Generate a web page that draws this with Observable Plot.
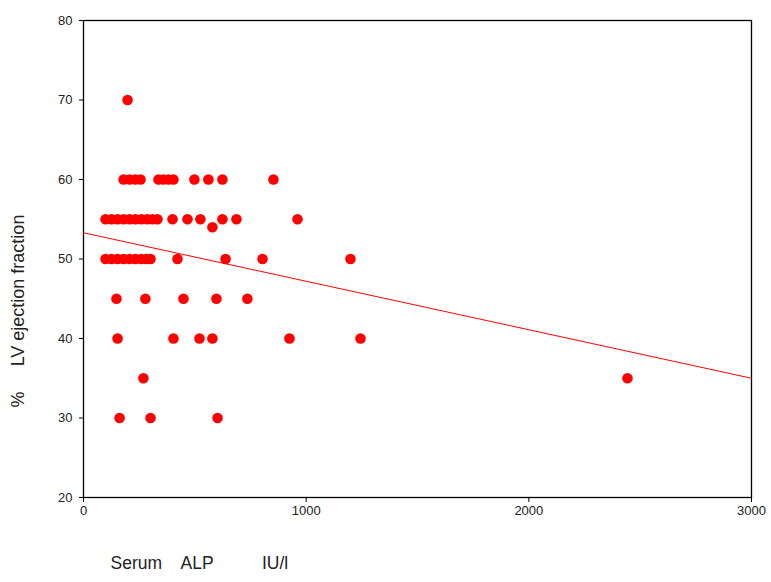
<!DOCTYPE html>
<html>
<head>
<meta charset="utf-8">
<script src="https://cdn.jsdelivr.net/npm/d3@7"></script>
<script src="https://cdn.jsdelivr.net/npm/@observablehq/plot@0.6"></script>
<style>
  html, body { margin: 0; padding: 0; background: #fff; }
  #chart svg { display: block; }
</style>
</head>
<body>
<div id="chart"></div>
<script>
// Serum ALP (IU/l) values, grouped by ejection-fraction level
const alp70 = [198];
const alp60 = [180, 207, 233, 256, 337, 359, 382, 404, 498, 561, 624, 853];
const alp55 = [99, 126, 153, 180, 207, 233, 260, 287, 310, 332, 400, 467, 525, 624, 687, 961];
const alp54 = [579];
const alp50 = [99, 126, 153, 180, 207, 233, 260, 283, 301, 422, 638, 804, 1199];
const alp45 = [148, 278, 449, 597, 736];
const alp40 = [153, 404, 521, 579, 925, 1244];
const alp35 = [269, 2443];
const alp30 = [162, 301, 602];

const efLevels = [70, 60, 55, 54, 50, 45, 40, 35, 30];
const alpGroups = [alp70, alp60, alp55, alp54, alp50, alp45, alp40, alp35, alp30];

// Fitted regression line (as drawn in the reference)
const fitIntercept = 53.3;
const fitSlope = -0.00610;
const fitRange = [0, 3000];

const xTicks = [0, 1000, 2000, 3000];
const yTicks = [20, 30, 40, 50, 60, 70, 80];

const points = [];
alpGroups.forEach((g, i) => g.forEach(a => points.push({alp: a, ef: efLevels[i]})));
const fitLine = fitRange.map(x => ({alp: x, ef: fitIntercept + fitSlope * x}));

const chart = Plot.plot({
  width: 771,
  height: 582,
  marginLeft: 83,
  marginRight: 20,
  marginTop: 20,
  marginBottom: 85,
  style: {fontFamily: "'Liberation Sans', Arial, sans-serif", fontSize: "13px", color: "#222", background: "#fff"},
  x: {domain: [0, 3000], ticks: xTicks},
  y: {domain: [20, 80], ticks: yTicks},
  marks: [
    Plot.frame({stroke: "#000", strokeWidth: 1.3}),
    Plot.axisX({ticks: xTicks, tickSize: 5, tickPadding: 3, label: null, tickFormat: d => String(d), fontSize: 13, stroke: "#000"}),
    Plot.axisY({ticks: yTicks, tickSize: 4, tickPadding: 7, label: null, tickFormat: d => String(d), fontSize: 13, stroke: "#000"}),
    Plot.line(fitLine, {x: "alp", y: "ef", stroke: "#ff0000", strokeWidth: 1}),
    Plot.dot(points, {x: "alp", y: "ef", r: 5.3, fill: "#ff0000", stroke: "none"}),
    Plot.text(["%     LV ejection fraction"], {frameAnchor: "left", textAnchor: "middle", rotate: -90, dx: -65, dy: 52, fontSize: 18, fill: "#222", style: "white-space: pre"}),
    Plot.text(["Serum    ALP          IU/l"], {frameAnchor: "bottom-left", textAnchor: "start", dx: 27, dy: 71, fontSize: 17.5, fill: "#222", style: "white-space: pre"})
  ]
});
document.getElementById("chart").appendChild(chart);
</script>
</body>
</html>
